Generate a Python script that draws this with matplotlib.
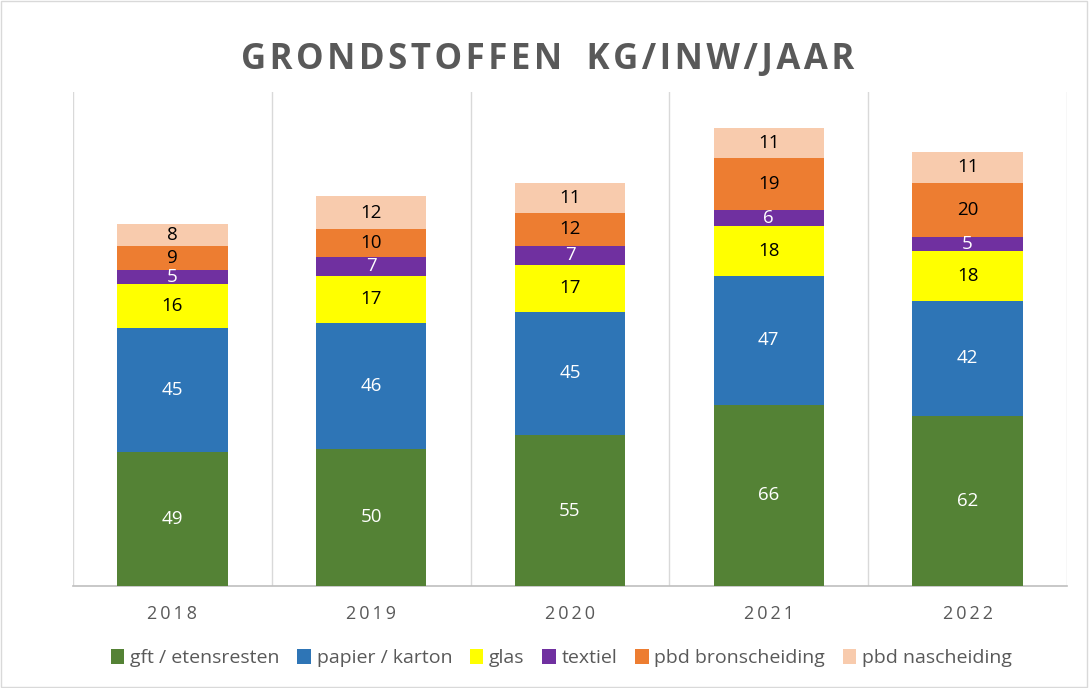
import matplotlib
matplotlib.use("Agg")
import matplotlib.pyplot as plt
import numpy as np
from matplotlib.patches import Rectangle

years = ["2018", "2019", "2020", "2021", "2022"]
series_names = ["gft / etensresten", "papier / karton", "glas", "textiel",
                "pbd bronscheiding", "pbd nascheiding"]
gft = [49, 50, 55, 66, 62]
papier = [45, 46, 45, 47, 42]
glas = [16, 17, 17, 18, 18]
textiel = [5, 7, 7, 6, 5]
pbd_bron = [9, 10, 12, 19, 20]
pbd_nas = [8, 12, 11, 11, 11]

values = [gft, papier, glas, textiel, pbd_bron, pbd_nas]
colors = ["#548235", "#2E75B6", "#FFFF00", "#7030A0", "#ED7D31", "#F8CBAD"]
label_colors = ["white", "white", "black", "white", "black", "black"]

plt.rcParams['font.family'] = ['Open Sans', 'DejaVu Sans']

fig = plt.figure(figsize=(10.9, 6.88), dpi=100)
ax = fig.add_axes([73/1090, 1-586/688, (1067-73)/1090, (586-92)/688])

x = np.arange(len(years))
bottom = np.zeros(len(years))
handles = []
for vals, col, lc, name in zip(values, colors, label_colors, series_names):
    bars = ax.bar(x, vals, width=0.555, bottom=bottom, color=col, label=name, zorder=3)
    handles.append(bars)
    for xi, b, v in zip(x, bottom, vals):
        ax.text(xi, b + v/2, str(v), ha='center', va='center', color=lc,
                fontsize=13.5, zorder=4)
    bottom += np.array(vals)

ax.set_xlim(-0.5, len(years)-0.5)
ax.set_ylim(0, 180)
for b in np.arange(-0.5, len(years), 1.0):
    ax.axvline(b, color="#D9D9D9", lw=1, zorder=1)
for s in ["top", "left", "right"]:
    ax.spines[s].set_visible(False)
ax.spines["bottom"].set_color("#BFBFBF")
ax.spines["bottom"].set_linewidth(1.2)
ax.set_yticks([])
ax.set_xticks(x)
ax.set_xticklabels(["\u2009".join(y) for y in years], color="#595959", fontsize=13)
ax.tick_params(axis='x', length=0, pad=14)

title_words = ["GRONDSTOFFEN", "KG/INW/JAAR"]
title = "\u200a\u2002\u200a".join("\u200a".join(w) for w in title_words)
fig.text(0.502, 1-60/688, title,
         ha='center', va='center', fontsize=25, fontweight='bold', color="#595959")

leg = fig.legend(handles=handles, loc='center', bbox_to_anchor=(0.515, 1-658/688),
                 ncol=6, frameon=False, fontsize=14, handlelength=0.7, handleheight=0.8,
                 handletextpad=0.3, columnspacing=0.9)
for t in leg.get_texts():
    t.set_color("#595959")

fig.patches.append(Rectangle((0.001, 0.001), 0.996, 0.997, transform=fig.transFigure,
                             fill=False, edgecolor="#D9D9D9", lw=1))

fig.savefig("out.png", dpi=100)
